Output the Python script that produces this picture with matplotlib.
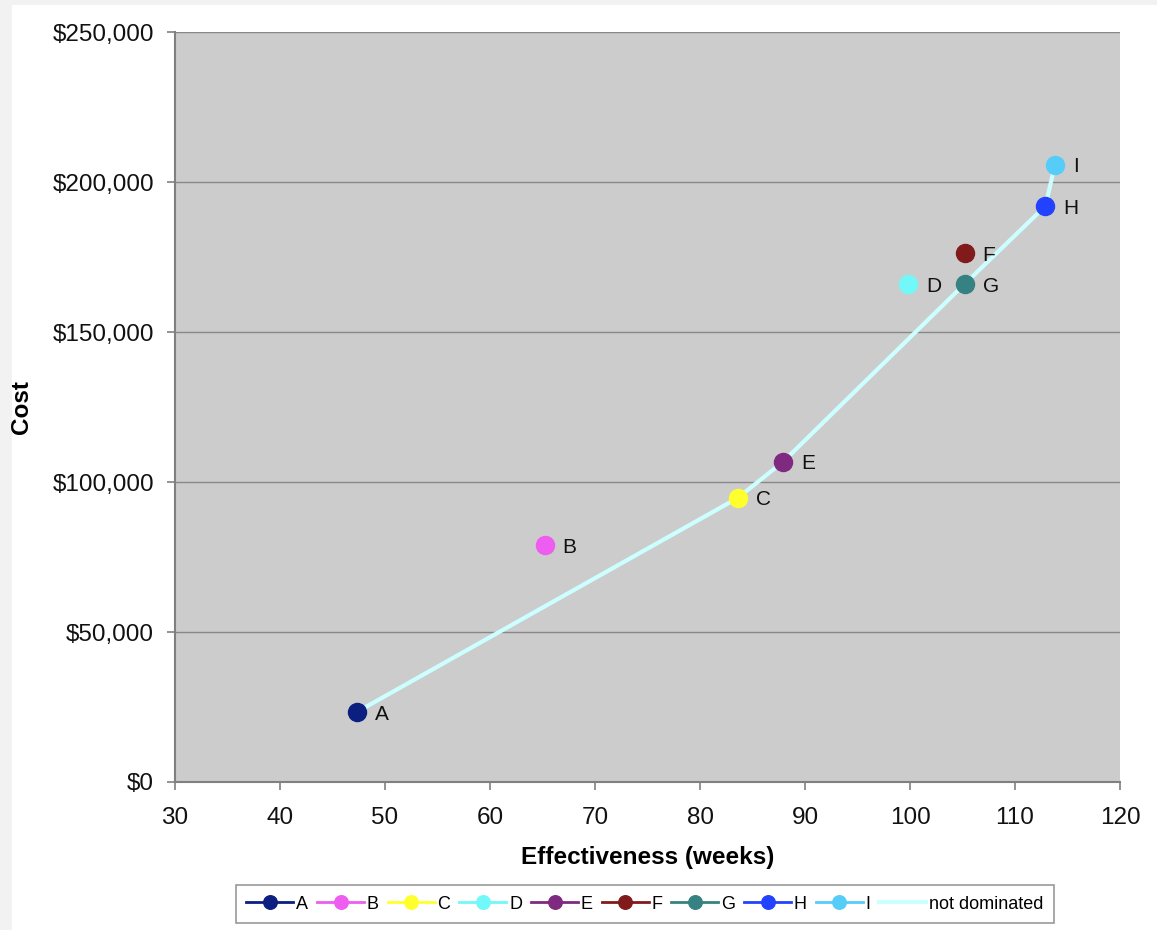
import matplotlib.pyplot as plt
from matplotlib.patches import Rectangle
from matplotlib.ticker import FuncFormatter

plt.rcParams['font.family'] = ['Liberation Sans', 'DejaVu Sans']

# strategies: effectiveness (weeks) and cost
labels = ['A', 'B', 'C', 'D', 'E', 'F', 'G', 'H', 'I']
effect = [47.3, 65.2, 83.6, 99.8, 87.9, 105.2, 105.2, 112.9, 113.8]
cost = [23300, 79000, 94700, 166000, 106700, 176300, 166000, 192000, 205700]
colors = ['#0b1f80', '#ee5cf0', '#ffff2e', '#72f8f8', '#7f2a80',
          '#811b1b', '#368282', '#2242ff', '#56ccf8']

# frontier of non-dominated strategies
frontier = ['A', 'C', 'E', 'G', 'H', 'I']

fig = plt.figure(figsize=(11.57, 9.3), dpi=100, facecolor='#f2f2f2')
fig.patches.append(Rectangle((12 / 1157, 0), 1, 1 - 5 / 930, transform=fig.transFigure,
                             facecolor='white', edgecolor='none', zorder=-10))
ax = fig.add_axes([175 / 1157, 1 - 782 / 930, 945 / 1157, 750 / 930])
ax.set_facecolor('#cccccc')

fx = [effect[labels.index(k)] for k in frontier]
fy = [cost[labels.index(k)] for k in frontier]

handles = []
for lab, x, y, c in zip(labels, effect, cost, colors):
    h, = ax.plot([x], [y], marker='o', ms=13, color=c, mec=c, lw=2,
                 label=lab, zorder=4)
    handles.append(h)
    ax.annotate(lab, (x, y), xytext=(13, -1.5), textcoords='offset points',
                fontsize=15, va='center', ha='left', color='#111111', zorder=6)

line, = ax.plot(fx, fy, color='#ccffff', lw=3, label='not dominated', zorder=3)

ax.set_xlim(30, 120)
ax.set_ylim(0, 250000)
ax.set_xticks(range(30, 121, 10))
ax.set_yticks(range(0, 250001, 50000))
ax.yaxis.set_major_formatter(FuncFormatter(lambda v, p: '${:,.0f}'.format(v)))
ax.grid(axis='y', color='#888888', lw=1)
ax.set_axisbelow(True)
for s in ['top', 'right']:
    ax.spines[s].set_visible(False)
for s in ['left', 'bottom']:
    ax.spines[s].set_color('#808080')
    ax.spines[s].set_linewidth(1.5)
ax.tick_params(direction='out', length=6, color='#808080', labelsize=17.5,
               labelcolor='#111111', width=1.2)
ax.tick_params(axis='x', pad=12)
ax.tick_params(axis='y', pad=9)

ax.set_xlabel('Effectiveness (weeks)', fontsize=17.5, fontweight='bold', labelpad=12)
ax.set_ylabel('Cost', fontsize=17.5, fontweight='bold')
ax.yaxis.set_label_coords(-0.150, 0.5)

leg = fig.legend(handles + [line], labels + ['not dominated'],
                 loc='center', bbox_to_anchor=(645 / 1157, 1 - 904 / 930),
                 ncol=10, fontsize=13, handlelength=2.6, handletextpad=0.15,
                 columnspacing=0.5, frameon=True, fancybox=False,
                 borderpad=0.6, markerscale=0.75)
leg.get_frame().set_edgecolor('#808080')
leg.get_frame().set_linewidth(1.2)

fig.savefig('out.png', dpi=100, facecolor=fig.get_facecolor())
